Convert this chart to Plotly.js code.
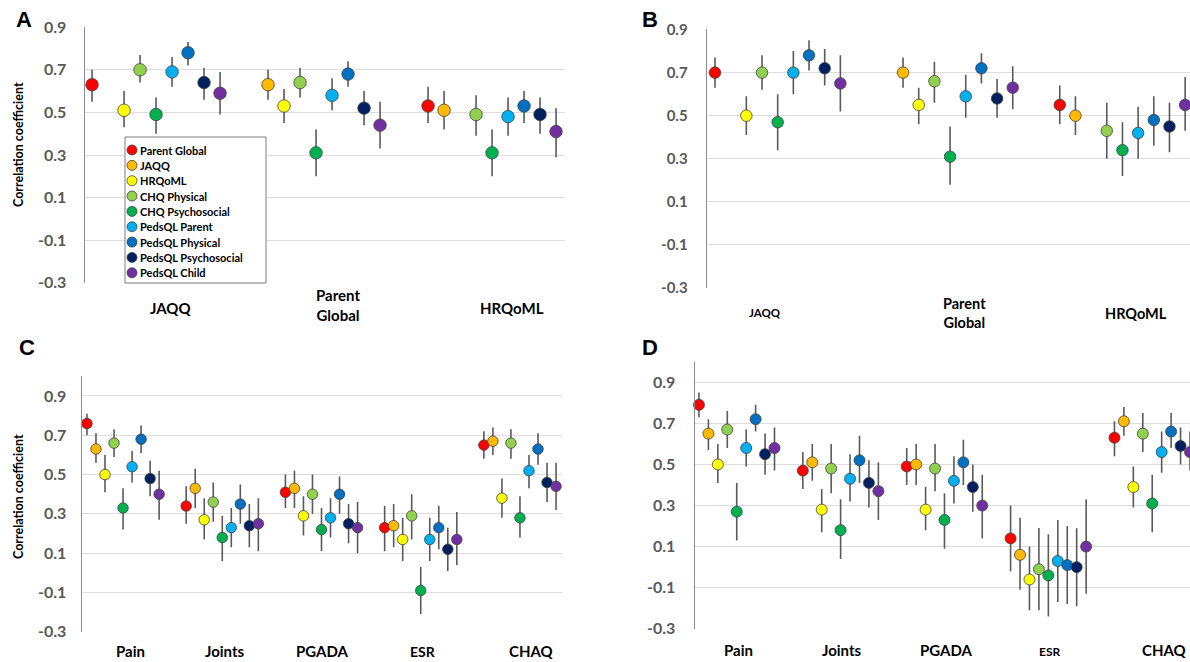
<!DOCTYPE html>
<html>
<head>
<meta charset="utf-8">
<script src="https://cdn.plot.ly/plotly-3.0.1.min.js"></script>
<style>html,body{margin:0;padding:0;background:#fff;}#chart{width:1190px;height:662px;}</style>
</head>
<body>
<div id="chart"></div>
<script>
// ---------------- DATA ----------------
const seriesNames = ['Parent Global','JAQQ','HRQoML','CHQ Physical','CHQ Psychosocial','PedsQL Parent','PedsQL Physical','PedsQL Psychosocial','PedsQL Child'];
const yTickVals = [-0.3,-0.1,0.1,0.3,0.5,0.7,0.9];
const yTickText = ['-0.3','-0.1','0.1','0.3','0.5','0.7','0.9'];

// Panel A
const A_groups = ['JAQQ','Parent<br>Global','HRQoML'];
const A_r  = [[0.63,null,0.51,0.70,0.49,0.69,0.78,0.64,0.59],
              [null,0.63,0.53,0.64,0.31,0.58,0.68,0.52,0.44],
              [0.53,0.51,null,0.49,0.31,0.48,0.53,0.49,0.41]];
const A_lo = [[0.55,null,0.43,0.64,0.40,0.62,0.72,0.56,0.49],
              [null,0.56,0.45,0.57,0.20,0.51,0.62,0.44,0.33],
              [0.45,0.42,null,0.39,0.20,0.39,0.45,0.40,0.29]];
const A_hi = [[0.70,null,0.60,0.77,0.57,0.76,0.83,0.71,0.69],
              [null,0.70,0.61,0.71,0.42,0.66,0.74,0.60,0.55],
              [0.62,0.60,null,0.58,0.42,0.57,0.60,0.57,0.52]];

// Panel B
const B_groups = ['JAQQ','Parent<br>Global','HRQoML'];
const B_r  = [[0.70,null,0.50,0.70,0.47,0.70,0.78,0.72,0.65],
              [null,0.70,0.55,0.66,0.31,0.59,0.72,0.58,0.63],
              [0.55,0.50,null,0.43,0.34,0.42,0.48,0.45,0.55]];
const B_lo = [[0.63,null,0.41,0.62,0.34,0.60,0.71,0.64,0.52],
              [null,0.63,0.46,0.56,0.18,0.49,0.65,0.49,0.53],
              [0.46,0.41,null,0.30,0.22,0.30,0.36,0.33,0.43]];
const B_hi = [[0.77,null,0.59,0.78,0.60,0.80,0.85,0.81,0.78],
              [null,0.77,0.63,0.75,0.45,0.69,0.79,0.67,0.73],
              [0.64,0.59,null,0.56,0.47,0.54,0.59,0.56,0.68]];

// Panel C
const C_groups = ['Pain','Joints','PGADA','ESR','CHAQ'];
const C_r  = [[0.76,0.63,0.50,0.66,0.33,0.54,0.68,0.48,0.40],
              [0.34,0.43,0.27,0.36,0.18,0.23,0.35,0.24,0.25],
              [0.41,0.43,0.29,0.40,0.22,0.28,0.40,0.25,0.23],
              [0.23,0.24,0.17,0.29,-0.09,0.17,0.23,0.12,0.17],
              [0.65,0.67,0.38,0.66,0.28,0.52,0.63,0.46,0.44]];
const C_lo = [[0.70,0.56,0.41,0.59,0.22,0.46,0.61,0.39,0.27],
              [0.25,0.33,0.17,0.26,0.06,0.13,0.25,0.13,0.11],
              [0.33,0.33,0.19,0.30,0.11,0.18,0.30,0.15,0.10],
              [0.11,0.13,0.06,0.17,-0.21,0.06,0.12,0.01,0.04],
              [0.58,0.60,0.28,0.58,0.18,0.43,0.55,0.36,0.32]];
const C_hi = [[0.81,0.71,0.60,0.73,0.43,0.62,0.75,0.57,0.52],
              [0.44,0.53,0.38,0.46,0.29,0.33,0.45,0.35,0.38],
              [0.50,0.52,0.39,0.50,0.33,0.38,0.49,0.35,0.36],
              [0.34,0.35,0.28,0.40,0.03,0.28,0.34,0.23,0.31],
              [0.72,0.74,0.48,0.73,0.39,0.60,0.71,0.56,0.56]];

// Panel D
const D_groups = ['Pain','Joints','PGADA','ESR','CHAQ'];
const D_r  = [[0.79,0.65,0.50,0.67,0.27,0.58,0.72,0.55,0.58],
              [0.47,0.51,0.28,0.48,0.18,0.43,0.52,0.41,0.37],
              [0.49,0.50,0.28,0.48,0.23,0.42,0.51,0.39,0.30],
              [0.14,0.06,-0.06,-0.01,-0.04,0.03,0.01,0.00,0.10],
              [0.63,0.71,0.39,0.65,0.31,0.56,0.66,0.59,0.56]];
const D_lo = [[0.73,0.57,0.41,0.58,0.13,0.49,0.66,0.45,0.47],
              [0.38,0.42,0.17,0.36,0.04,0.32,0.41,0.29,0.23],
              [0.40,0.40,0.18,0.37,0.09,0.31,0.40,0.27,0.14],
              [-0.02,-0.11,-0.21,-0.21,-0.24,-0.17,-0.18,-0.19,-0.13],
              [0.54,0.64,0.29,0.56,0.17,0.46,0.58,0.50,0.47]];
const D_hi = [[0.85,0.72,0.60,0.76,0.41,0.67,0.79,0.65,0.68],
              [0.56,0.60,0.38,0.60,0.33,0.55,0.64,0.52,0.51],
              [0.58,0.60,0.39,0.60,0.36,0.54,0.62,0.50,0.45],
              [0.30,0.24,0.10,0.19,0.16,0.23,0.20,0.19,0.33],
              [0.71,0.78,0.49,0.75,0.45,0.66,0.75,0.68,0.66]];

// ---------------- STYLE / LAYOUT ----------------
const seriesColors = ['#FF0000','#FFB900','#FFFF00','#92D050','#00B050','#00B0F0','#0070C0','#002060','#7030A0'];
const W = 1190, H = 662;
const px = v => v / W;
const py = v => 1 - v / H;

const panels = [
  {key:'A', r:A_r, lo:A_lo, hi:A_hi, groups:A_groups, gStart:[0,10,21], xr:[-0.44,29.56],
   dom:{x:[85,565], y:[27,283]}, yr:[-0.301,0.901], tickSize:16, standoff:14, msize:12.5,
   lblShift:[0.9,1.4,1.25], lblY:[308,305,308], lblSize:[15,15,15], letter:[24,20], ytitle:[18,145]},
  {key:'B', r:B_r, lo:B_lo, hi:B_hi, groups:B_groups, gStart:[0,11,22], xr:[-0.51,30.31],
   dom:{x:[707,1190], y:[29.3,288.3]}, yr:[-0.301,0.901], tickSize:15, standoff:15, msize:11.5,
   lblShift:[-0.8,0.95,0.87], lblY:[312,312.5,313], lblSize:[11.5,14.5,14.5], letter:[650,20], ytitle:null},
  {key:'C', r:C_r, lo:C_lo, hi:C_hi, groups:C_groups, gStart:[0,11,22,33,44], xr:[-0.55,52.66],
   dom:{x:[82,562], y:[376.3,632]}, yr:[-0.301,1.0], tickSize:16, standoff:11, msize:10.5,
   lblShift:[0.88,0.3,0.16,0.25,1.3], lblY:[651,651,651,651,651], lblSize:[15,15,15,14,15], letter:[27,347], ytitle:[18,497]},
  {key:'D', r:D_r, lo:D_lo, hi:D_hi, groups:D_groups, gStart:[0,11,22,33,44], xr:[-0.42,52.0],
   dom:{x:[695,1190], y:[361.7,629]}, yr:[-0.301,1.0], tickSize:16, standoff:15, msize:11,
   lblShift:[0.23,0.1,0.2,0.1,1.3], lblY:[650,650,650,651,650], lblSize:[15,15,15,12,15], letter:[650,347], ytitle:null}
];

const FONT = 'Lato, "Open Sans", "DejaVu Sans", sans-serif';
const traces = [];
const layout = {
  width: W, height: H, margin:{l:0,r:0,t:0,b:0},
  paper_bgcolor:'#ffffff', plot_bgcolor:'rgba(0,0,0,0)', showlegend:false,
  font:{family:FONT},
  annotations:[], shapes:[]
};

panels.forEach((p, pi) => {
  const n = pi + 1;
  const xa = n === 1 ? 'x' : 'x' + n;
  const ya = n === 1 ? 'y' : 'y' + n;
  for (let s = 0; s < seriesNames.length; s++) {
    const xs = [], ys = [], ep = [], em = [];
    p.groups.forEach((g, gi) => {
      const v = p.r[gi][s];
      if (v === null || v === undefined) return;
      xs.push(p.gStart[gi] + s);
      ys.push(v);
      ep.push(+(p.hi[gi][s] - v).toFixed(4));
      em.push(+(v - p.lo[gi][s]).toFixed(4));
    });
    traces.push({
      type:'scatter', mode:'markers', name: seriesNames[s], x: xs, y: ys,
      xaxis: xa, yaxis: ya, cliponaxis: false,
      marker:{color: seriesColors[s], size: p.msize, line:{color:'#404040', width:0.8}},
      error_y:{type:'data', symmetric:false, array: ep, arrayminus: em, color:'#5a5a5a', thickness:1.6, width:0},
      hoverinfo:'name+y'
    });
  }
  layout['xaxis' + (n === 1 ? '' : n)] = {
    domain:[px(p.dom.x[0]), Math.min(1, px(p.dom.x[1]))], range:p.xr, anchor: ya,
    showgrid:false, zeroline:false, showticklabels:false, ticks:'', showline:false, fixedrange:true
  };
  layout['yaxis' + (n === 1 ? '' : n)] = {
    domain:[py(p.dom.y[1]), py(p.dom.y[0])], range:p.yr, anchor: xa,
    tickvals: yTickVals, ticktext: yTickText, ticks:'', ticklabelstandoff: p.standoff,
    tickfont:{family:FONT, size:p.tickSize, color:'#595959', weight:700},
    showgrid:true, gridcolor:'#dedede', gridwidth:1, zeroline:false,
    showline:true, linecolor:'#8c8c8c', linewidth:1.4, fixedrange:true
  };
  // category labels
  p.groups.forEach((g, gi) => {
    layout.annotations.push({
      xref: xa, yref:'paper', x: p.gStart[gi] + 4 + p.lblShift[gi], y: py(p.lblY[gi]),
      text: g, showarrow:false, xanchor:'center', yanchor:'middle',
      font:{family:FONT, size:p.lblSize[gi], color:'#000000', weight:700}
    });
  });
  // panel letter
  layout.annotations.push({
    xref:'paper', yref:'paper', x: px(p.letter[0]), y: py(p.letter[1]), text: p.key,
    showarrow:false, xanchor:'center', yanchor:'middle',
    font:{family:'"Liberation Sans", Arial, sans-serif', size:22, color:'#000', weight:700}
  });
  if (p.ytitle) {
    layout.annotations.push({
      xref:'paper', yref:'paper', x: px(p.ytitle[0]), y: py(p.ytitle[1]), text:'Correlation coefficient',
      textangle:-90, showarrow:false, xanchor:'center', yanchor:'middle',
      font:{family:FONT, size:12.5, color:'#000', weight:700}
    });
  }
});

// Manual legend for panel A
const leg = {x0:125, x1:266, y0:137, y1:283, firstY:150, step:15.35, mx:132, tx:138};
layout.shapes.push({type:'rect', xref:'paper', yref:'paper', x0:px(leg.x0), x1:px(leg.x1), y0:py(leg.y1), y1:py(leg.y0),
  line:{color:'#7f7f7f', width:1}, fillcolor:'#ffffff', layer:'above'});
seriesNames.forEach((nm, i) => {
  const cy = leg.firstY + i * leg.step;
  layout.shapes.push({type:'circle', xref:'paper', yref:'paper', xsizemode:'pixel', ysizemode:'pixel',
    xanchor:px(leg.mx), yanchor:py(cy), x0:-5, x1:5, y0:-5, y1:5,
    fillcolor: seriesColors[i], line:{color:'#404040', width:0.8}, layer:'above'});
  layout.annotations.push({xref:'paper', yref:'paper', x:px(leg.tx), y:py(cy), text:nm, showarrow:false,
    xanchor:'left', yanchor:'middle', font:{family:FONT, size:11, color:'#000', weight:700}});
});

Plotly.newPlot('chart', traces, layout, {displayModeBar:false, staticPlot:true});
</script>
</body>
</html>
